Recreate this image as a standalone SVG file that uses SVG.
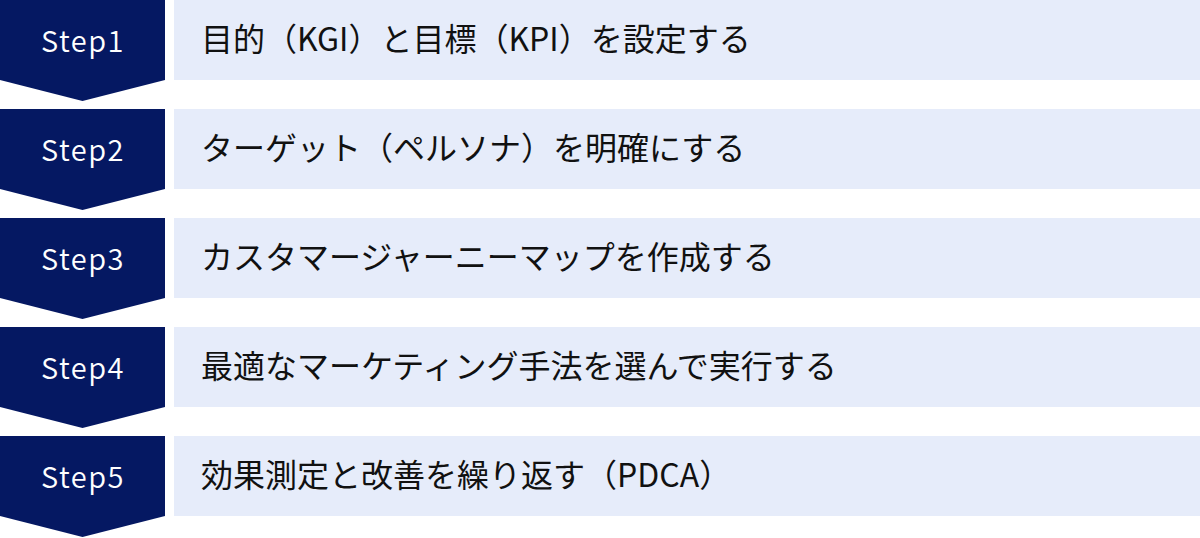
<svg xmlns="http://www.w3.org/2000/svg" width="1200" height="538" viewBox="0 0 1200 538">
<style>
.arrow{fill:#051862}
.box{fill:#e6ecfa}
.lbl{font-family:"Noto Sans CJK JP","Noto Sans",sans-serif;font-size:29px;font-weight:350;letter-spacing:1.5px;fill:#ffffff;text-anchor:middle}
.txt{font-family:"Noto Sans CJK JP","Noto Sans",sans-serif;font-size:32px;font-weight:400;fill:#111111}
</style>
<defs>
<polygon id="chev" points="0,0 165,0 165,80 82.5,101 0,80"/>
</defs>
<rect width="1200" height="538" fill="#ffffff"/>
<g id="step1">
<use href="#chev" class="arrow"/>
<rect class="box" x="174" y="0" width="1026" height="80"/>
<text class="lbl" x="83" y="52">Step1</text>
<text class="txt" x="201" y="51">目的（KGI）と目標（KPI）を設定する</text>
</g>
<g id="step2" transform="translate(0,109)">
<use href="#chev" class="arrow"/>
<rect class="box" x="174" y="0" width="1026" height="80"/>
<text class="lbl" x="83" y="52">Step2</text>
<text class="txt" x="201" y="51">ターゲット（ペルソナ）を明確にする</text>
</g>
<g id="step3" transform="translate(0,218)">
<use href="#chev" class="arrow"/>
<rect class="box" x="174" y="0" width="1026" height="80"/>
<text class="lbl" x="83" y="52">Step3</text>
<text class="txt" x="201" y="51">カスタマージャーニーマップを作成する</text>
</g>
<g id="step4" transform="translate(0,327)">
<use href="#chev" class="arrow"/>
<rect class="box" x="174" y="0" width="1026" height="80"/>
<text class="lbl" x="83" y="52">Step4</text>
<text class="txt" x="201" y="51">最適なマーケティング手法を選んで実行する</text>
</g>
<g id="step5" transform="translate(0,436)">
<use href="#chev" class="arrow"/>
<rect class="box" x="174" y="0" width="1026" height="80"/>
<text class="lbl" x="83" y="52">Step5</text>
<text class="txt" x="201" y="51">効果測定と改善を繰り返す（PDCA）</text>
</g>
<g id="connectors"></g>
</svg>
